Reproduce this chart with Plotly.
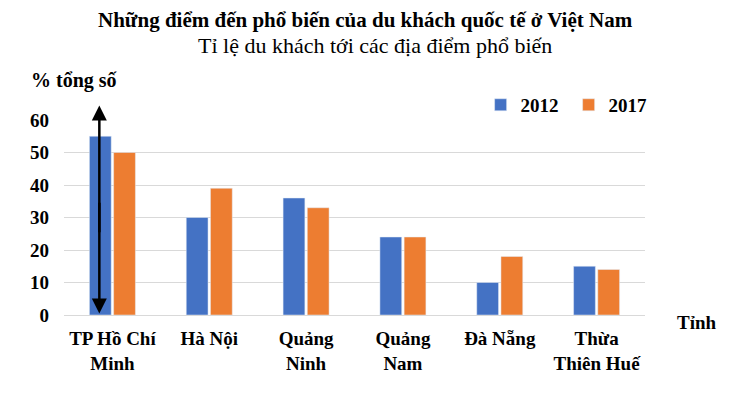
import plotly.graph_objects as go

categories = ["TP Hồ Chí<br>Minh", "Hà Nội", "Quảng<br>Ninh", "Quảng<br>Nam", "Đà Nẵng", "Thừa<br>Thiên Huế"]
values_2012 = [55, 30, 36, 24, 10, 15]
values_2017 = [50, 39, 33, 24, 18, 14]
y_ticks = [0, 10, 20, 30, 40, 50, 60]

font_family = "Liberation Serif"

fig = go.Figure()
fig.add_trace(go.Bar(name="2012", x=categories, y=values_2012, marker_color="#4472C4"))
fig.add_trace(go.Bar(name="2017", x=categories, y=values_2017, marker_color="#ED7D31"))

# trang html có lề 8px, nên bớt 8px ở trái và trên
fig.update_layout(
    width=721,
    height=397,
    barmode="group",
    bargap=0.5,
    bargroupgap=0.1,
    plot_bgcolor="white",
    paper_bgcolor="white",
    margin=dict(l=56, r=84, t=112, b=90),
    font=dict(family=font_family, size=19, color="black"),
    showlegend=True,
    legend=dict(
        orientation="h",
        x=1.02, xanchor="right",
        y=0.98, yanchor="bottom",
        font=dict(size=19, family=font_family, weight="bold"),
        itemwidth=30,
        entrywidth=43,
        traceorder="normal",
    ),
)

fig.update_xaxes(
    tickfont=dict(size=19, family=font_family, weight="bold"),
    showline=True, linecolor="#d9d9d9", linewidth=1,
    ticks="",
    ticklabelstandoff=6,
)
fig.update_yaxes(
    range=[0, 60],
    tickvals=y_ticks,
    tickfont=dict(size=19, family=font_family, weight="bold"),
    showgrid=True, gridcolor="#d9d9d9", gridwidth=1,
    zeroline=False,
    ticks="", ticklen=0,
    ticklabelstandoff=14,
)

# tiêu đề
fig.add_annotation(
    text="<b>Những điểm đến phổ biến của du khách quốc tế ở Việt Nam</b>",
    xref="paper", yref="paper", x=0, xshift=301, y=1.0, yshift=100,
    xanchor="center", yanchor="middle", showarrow=False,
    font=dict(size=21, family=font_family),
)
fig.add_annotation(
    text="Tỉ lệ du khách tới các địa điểm phổ biến",
    xref="paper", yref="paper", x=0, xshift=311, y=1.0, yshift=75,
    xanchor="center", yanchor="middle", showarrow=False,
    font=dict(size=22, family=font_family),
)
fig.add_annotation(
    text="<b>% tổng số</b>",
    xref="paper", yref="paper", x=0, xshift=-35, y=1.0, yshift=40,
    xanchor="left", yanchor="middle", showarrow=False,
    font=dict(size=20, family=font_family),
)
fig.add_annotation(
    text="<b>Tỉnh</b>",
    xref="paper", yref="paper", x=1.0, xshift=30, y=0, yshift=-7,
    xanchor="left", yanchor="middle", showarrow=False,
    font=dict(size=19, family=font_family),
)

# mũi tên hai chiều trên cột đầu tiên
arrow_x = -0.135
for tip, tail in [(64.5, 25), (0.5, 35)]:
    fig.add_annotation(
        x=arrow_x, y=tip, ax=arrow_x, ay=tail,
        xref="x", yref="y", axref="x", ayref="y",
        showarrow=True, arrowhead=2, arrowsize=1.2, arrowwidth=2.5,
        arrowcolor="black", text="",
    )

fig.write_html("out.html")
